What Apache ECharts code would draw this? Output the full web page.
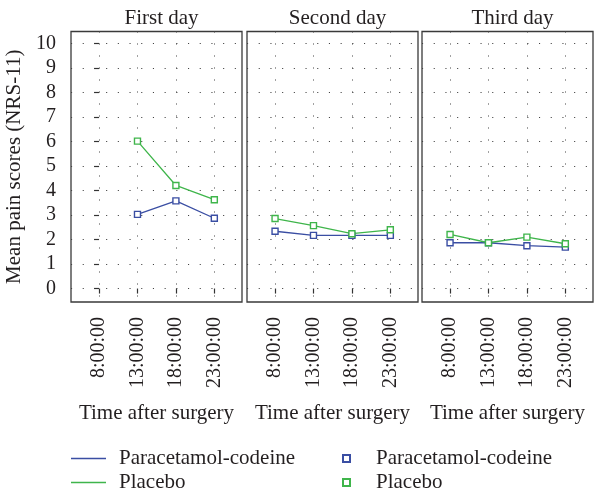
<!DOCTYPE html>
<html><head><meta charset="utf-8">
<script src="https://cdn.jsdelivr.net/npm/echarts@6/dist/echarts.min.js"></script>
<style>html,body{margin:0;padding:0;background:#fff}#c{width:601px;height:494px}</style>
</head><body><div id="c"></div>
<script>
const days = ['First day', 'Second day', 'Third day'];
const times = ['8:00:00', '13:00:00', '18:00:00', '23:00:00'];
const yTicks = [0, 1, 2, 3, 4, 5, 6, 7, 8, 9, 10];
const paracetamol = [
  [null, 3.03, 3.58, 2.87],
  [2.34, 2.17, 2.17, 2.17],
  [1.87, 1.87, 1.75, 1.69]
];
const placebo = [
  [null, 6.02, 4.21, 3.63],
  [2.86, 2.57, 2.24, 2.40],
  [2.21, 1.87, 2.10, 1.83]
];
const names = {pcLine: 'Paracetamol-codeine', plLine: 'Placebo', pcMark: 'Paracetamol-codeine', plMark: 'Placebo'};

const BLUE = '#3a4ea3', GREEN = '#3fb54b', INK = '#231f20';
const FONT = 'Liberation Serif';
const lefts = [71, 247, 422];
const W = 171, TOP = 31.5, H = 270.5;

const toPts = arr => arr.map((v, i) => v == null ? null : [i, v]).filter(p => p);

const grids = [], xAxes = [], yAxes = [], series = [], titles = [];
days.forEach((d, k) => {
  grids.push({left: lefts[k], top: TOP, width: W, height: H, show: true, borderColor: '#3a3a3a', borderWidth: 1.3, backgroundColor: 'transparent'});
  titles.push({text: d, left: lefts[k] + W / 2, textAlign: 'center', top: 3,
    textStyle: {fontFamily: FONT, fontSize: 21, fontWeight: 'normal', color: INK}});
  xAxes.push({type: 'value', gridIndex: k, min: -0.73, max: 3.72,
    name: 'Time after surgery', nameLocation: 'middle', nameGap: 101,
    nameTextStyle: {fontFamily: FONT, fontSize: 21, color: INK},
    axisLine: {show: false},
    axisTick: {show: true, length: 5, inside: false, customValues: [0, 1, 2, 3], lineStyle: {color: '#333', width: 1.2}},
    axisLabel: {customValues: [0, 1, 2, 3], rotate: 90, margin: 15, fontFamily: FONT, fontSize: 20, color: INK,
      formatter: v => times[Math.round(v)]},
    splitLine: {show: true, lineStyle: {color: '#444', width: 1.1, type: [1.1, 10.9]}}
  });
  yAxes.push({type: 'value', gridIndex: k, min: -0.55, max: 10.5,
    name: k === 0 ? 'Mean pain scores (NRS-11)' : '', nameLocation: 'middle', nameGap: 46,
    nameTextStyle: {fontFamily: FONT, fontSize: 21, color: INK},
    axisLine: {show: false},
    axisTick: {show: k === 0, length: 5, customValues: yTicks, lineStyle: {color: '#333', width: 1.2}},
    axisLabel: {show: k === 0, customValues: yTicks, margin: 15, fontFamily: FONT, fontSize: 20, color: INK},
    splitLine: {show: true, lineStyle: {color: '#444', width: 1.1, type: [1.1, 10.6]}}
  });
  series.push(
    {type: 'line', name: 'pcLine', xAxisIndex: k, yAxisIndex: k, data: toPts(paracetamol[k]), symbol: 'none',
      lineStyle: {color: BLUE, width: 1.3}, itemStyle: {color: BLUE}, z: 3},
    {type: 'line', name: 'plLine', xAxisIndex: k, yAxisIndex: k, data: toPts(placebo[k]), symbol: 'none',
      lineStyle: {color: GREEN, width: 1.3}, itemStyle: {color: GREEN}, z: 3},
    {type: 'scatter', name: 'pcMark', xAxisIndex: k, yAxisIndex: k, data: toPts(paracetamol[k]), symbol: 'rect', symbolSize: 6,
      itemStyle: {color: '#fff', borderColor: BLUE, borderWidth: 1.4, opacity: 1}, z: 4},
    {type: 'scatter', name: 'plMark', xAxisIndex: k, yAxisIndex: k, data: toPts(placebo[k]), symbol: 'rect', symbolSize: 6,
      itemStyle: {color: '#fff', borderColor: GREEN, borderWidth: 1.4, opacity: 1}, z: 4}
  );
});

const chart = echarts.init(document.getElementById('c'), null, {renderer: 'canvas'});
chart.setOption({
  animation: false,
  backgroundColor: '#fff',
  title: titles,
  grid: grids, xAxis: xAxes, yAxis: yAxes, series: series,
  legend: [
    {data: ['pcLine', 'plLine'], orient: 'vertical', left: 71, top: 448, itemGap: 3, itemWidth: 35, itemHeight: 1.3,
      icon: 'rect', padding: 0,
      formatter: n => names[n], textStyle: {fontFamily: FONT, fontSize: 21, lineHeight: 21, color: INK, padding: [0, 0, 0, 8]}},
    {data: ['pcMark', 'plMark'], orient: 'vertical', left: 342, top: 448, itemGap: 3, itemWidth: 7, itemHeight: 7,
      padding: 0,
      formatter: n => names[n], textStyle: {fontFamily: FONT, fontSize: 21, lineHeight: 21, color: INK, padding: [0, 0, 0, 21]}}
  ]
});
</script></body></html>
